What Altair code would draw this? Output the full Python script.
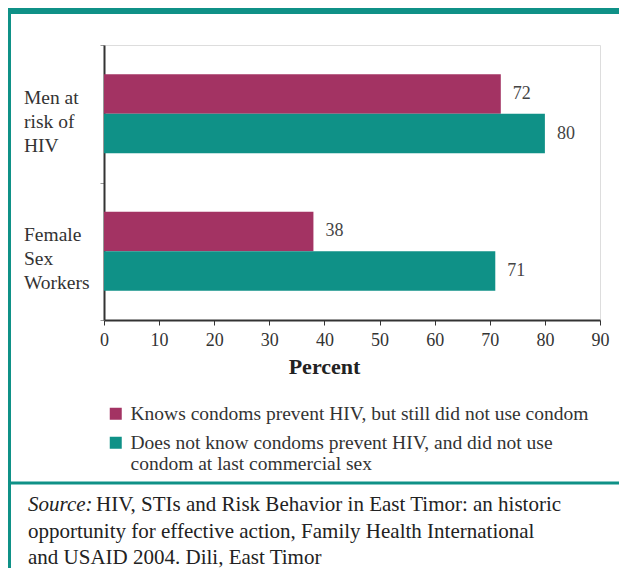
import json
import altair as alt
import pandas as pd

categories = ["Men at risk of HIV", "Female Sex Workers"]
category_labels = ["Men at\nrisk of\nHIV", "Female\nSex\nWorkers"]
series = [
    "Knows condoms prevent HIV, but still did not use condom",
    "Does not know condoms prevent HIV, and did not use condom at last commercial sex",
]
series_lines = [
    ["Knows condoms prevent HIV, but still did not use condom"],
    ["Does not know condoms prevent HIV, and did not use", "condom at last commercial sex"],
]
knows_values = [72, 38]
not_know_values = [80, 71]
colors = ["#A33363", "#0F9187"]
x_ticks = [0, 10, 20, 30, 40, 50, 60, 70, 80, 90]
x_title = "Percent"
source_italic = "Source:"
source_first = "HIV, STIs and Risk Behavior in East Timor: an historic"
source_rest = "opportunity for effective action, Family Health International\nand USAID 2004. Dili, East Timor"

rows = []
for c, a, b in zip(categories, knows_values, not_know_values):
    rows.append({"group": c, "series": series[0], "value": a})
    rows.append({"group": c, "series": series[1], "value": b})
df = pd.DataFrame(rows)
cat_df = pd.DataFrame({"group": categories, "label": category_labels})


def mapping_expr(field, keys, lines):
    expr = json.dumps(lines[-1])
    for k, l in reversed(list(zip(keys[:-1], lines[:-1]))):
        expr = f"{field} == {json.dumps(k)} ? {json.dumps(l)} : ({expr})"
    return expr


W, H = 496, 275
PL, PT = 96, 37
TOTAL_W, TOTAL_H = 611, 560
FONT = "Liberation Serif, DejaVu Serif, serif"
TEAL = "#0F9187"

y_scale = alt.Scale(domain=categories, paddingInner=0, paddingOuter=0)
y_enc = alt.Y(
    "group:N",
    sort=categories,
    scale=y_scale,
    axis=alt.Axis(
        title=None,
        labels=False,
        tickSize=4,
        tickBand="extent",
        tickColor="#999999",
        domainColor="#333333",
        domainWidth=2,
    ),
)
yoff_enc = alt.YOffset("series:N", sort=series, scale=alt.Scale(paddingInner=0, paddingOuter=0.7405))
x_enc = alt.X(
    "value:Q",
    scale=alt.Scale(domain=[0, 90], nice=False),
    axis=alt.Axis(
        values=x_ticks,
        title=x_title,
        titleFont=FONT,
        titleFontWeight="bold",
        titleFontSize=22,
        titleColor="#222222",
        titleX=220,
        titleY=46,
        titleBaseline="middle",
        tickSize=5,
        tickColor="#333333",
        labelFontSize=18,
        labelFont=FONT,
        labelColor="#333333",
        labelPadding=6,
        labelFlush=False,
        domainWidth=2,
        domainColor="#333333",
        grid=False,
    ),
)
color_enc = alt.Color(
    "series:N",
    sort=series,
    scale=alt.Scale(domain=series, range=colors),
    legend=alt.Legend(
        title=None,
        orient="none",
        legendX=2,
        legendY=359,
        direction="vertical",
        symbolType="square",
        symbolSize=144,
        symbolStrokeWidth=0,
        symbolOpacity=1,
        labelFontSize=19.5,
        labelFont=FONT,
        labelColor="#333333",
        labelLimit=700,
        labelOffset=5,
        rowPadding=8,
        labelExpr=mapping_expr("datum.label", series, series_lines),
        padding=0,
    ),
)

bars = alt.Chart(df).mark_bar().encode(x=x_enc, y=y_enc, yOffset=yoff_enc, color=color_enc)
labels = alt.Chart(df).mark_text(
    align="left", baseline="middle", dx=12, fontSize=18, color="#444444", font=FONT
).encode(
    x="value:Q",
    y=alt.Y("group:N", sort=categories),
    yOffset=alt.YOffset("series:N", sort=series),
    text="value:Q",
)
cat_text = alt.Chart(cat_df).mark_text(
    align="left", baseline="middle", dy=-16, fontSize=19.5, color="#333333", font=FONT,
    lineBreak="\n", lineHeight=24,
).encode(x=alt.value(-80), y=alt.Y("group:N", sort=categories), text="label:N")

one = pd.DataFrame({"d": [0]})
top_bar = alt.Chart(one).mark_rule(color=TEAL, strokeWidth=6).encode(
    x=alt.value(-PL), x2=alt.value(TOTAL_W - PL), y=alt.value(-PT + 3)
)
left_bar = alt.Chart(one).mark_rule(color=TEAL, strokeWidth=3).encode(
    x=alt.value(-PL + 1.5), y=alt.value(-PT), y2=alt.value(TOTAL_H - PT)
)
sep_bar = alt.Chart(one).mark_rule(color=TEAL, strokeWidth=3).encode(
    x=alt.value(-PL), x2=alt.value(TOTAL_W - PL), y=alt.value(438)
)
src_it = alt.Chart(one).mark_text(
    align="left", baseline="middle", fontSize=21, font=FONT, fontStyle="italic", color="#222222"
).encode(x=alt.value(-76), y=alt.value(460), text=alt.value(source_italic))
src_first = alt.Chart(one).mark_text(
    align="left", baseline="middle", fontSize=21, font=FONT, color="#222222"
).encode(x=alt.value(-8), y=alt.value(460), text=alt.value(source_first))
src_rest = alt.Chart(one).mark_text(
    align="left", baseline="middle", fontSize=21, font=FONT, color="#222222", lineBreak="\n", lineHeight=26
).encode(x=alt.value(-76), y=alt.value(487), text=alt.value(source_rest))

chart = alt.layer(bars, labels, cat_text, top_bar, left_bar, sep_bar, src_it, src_first, src_rest).properties(
    width=W,
    height=H,
    padding={"left": PL, "top": PT, "right": TOTAL_W - PL - W, "bottom": TOTAL_H - PT - H},
    autosize=alt.AutoSizeParams(type="none"),
).configure_view(stroke=None).configure(font=FONT)

chart.save("out.html", embed_options={"renderer": "svg", "actions": False})
